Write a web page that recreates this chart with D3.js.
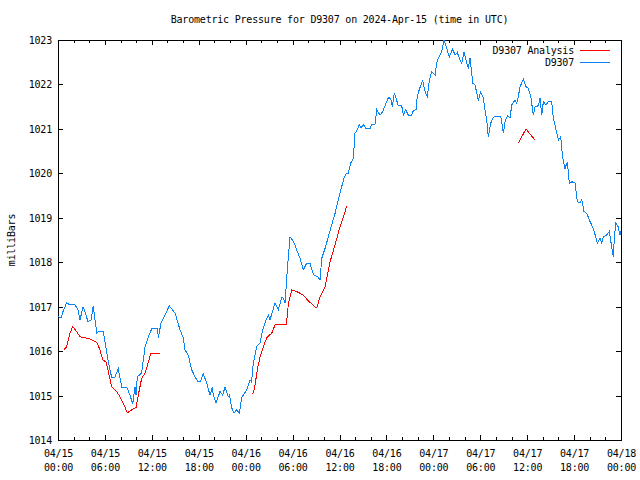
<!DOCTYPE html>
<html>
<head>
<meta charset="utf-8">
<script src="https://cdn.jsdelivr.net/npm/d3@7"></script>
<style>
  html, body { margin: 0; padding: 0; background: #fff; }
  svg { display: block; }
  text { font-family: "DejaVu Sans Mono", "Liberation Mono", monospace; font-size: 10px; letter-spacing: -0.2px; fill: #000; }
</style>
</head>
<body>
<svg id="chart" width="640" height="480"></svg>
<script>
// ---- Data (hours since 2024-04-15 00:00 UTC, pressure in mbar) ----
const titleText = "Barometric Pressure for D9307 on 2024-Apr-15 (time in UTC)";
const yLabel = "milliBars";
const seriesNames = ["D9307 Analysis", "D9307"];
const yTicks = [1014, 1015, 1016, 1017, 1018, 1019, 1020, 1021, 1022, 1023];

const blueHours = [0.0,0.4,0.64,1.11,1.53,2.17,2.56,2.81,3.2,3.45,3.84,4.22,4.51,4.95,5.37,5.79,6.23,6.52,6.87,7.29,
  7.71,8.15,8.79,9.21,9.55,9.85,9.98,10.14,10.7,11.13,11.51,11.98,12.73,12.83,13.17,13.68,14.23,14.96,15.6,16.03,
  16.24,16.66,17.1,17.52,17.94,18.22,18.58,19.02,19.44,19.73,19.86,20.21,20.72,21.06,21.36,21.78,21.93,22.22,22.51,22.86,
  23.19,23.49,24.13,24.56,24.75,24.98,25.41,25.83,26.18,26.6,26.9,27.11,27.75,28.18,28.61,28.81,29.03,29.33,29.67,29.99,
  30.31,30.61,30.95,31.37,31.81,32.23,32.45,32.74,33.25,33.51,33.73,34.15,34.57,35.0,35.43,35.85,36.28,36.58,36.83,37.13,
  37.43,37.77,37.98,38.28,38.53,38.75,39.05,39.39,39.9,40.12,40.54,40.76,41.18,41.53,41.82,42.24,42.53,42.75,43.01,43.23,
  43.52,43.96,44.16,44.47,44.8,45.24,45.44,45.79,45.95,46.21,46.64,46.94,47.23,47.49,47.79,48.22,48.43,48.64,49.07,49.37,
  49.71,50.05,50.48,50.77,51.07,51.32,51.63,51.92,52.18,52.47,52.69,53.04,53.33,53.75,54.06,54.35,54.61,54.83,55.03,55.34,
  55.67,56.15,56.62,56.96,57.17,57.47,57.81,58.03,58.45,58.67,58.87,59.09,59.51,59.85,60.15,60.46,60.79,61.01,61.43,61.64,
  61.86,62.07,62.41,62.71,63.14,63.35,63.69,63.99,64.29,64.55,64.84,65.14,65.39,65.74,66.12,66.42,66.76,66.98,67.27,67.62,
  67.95,68.46,68.81,68.97,69.32,69.53,69.74,70.17,70.5,70.81,71.02,71.17,71.36,71.62,71.87,72.0];
const bluePressure = [1016.78,1016.75,1016.89,1017.09,1017.04,1017.04,1016.93,1016.70,1017.0,1016.88,1016.66,1016.70,1017.02,1016.41,1016.45,1016.45,1015.96,1015.69,1015.40,1015.42,
  1015.60,1015.19,1015.19,1015.01,1014.81,1015.20,1015.01,1015.42,1015.51,1016.10,1016.30,1016.50,1016.50,1016.30,1016.63,1016.81,1017.02,1016.86,1016.48,1016.30,
  1016.03,1015.91,1015.58,1015.42,1015.31,1015.31,1015.49,1015.28,1015.01,1015.19,1015.01,1014.83,1015.09,1015.01,1015.19,1014.97,1015.01,1014.72,1014.61,1014.68,
  1014.60,1014.95,1015.13,1015.35,1015.31,1015.73,1016.10,1016.18,1016.48,1016.70,1016.81,1016.70,1017.08,1016.93,1017.21,1017.19,1017.08,1017.83,1018.57,1018.50,
  1018.39,1018.24,1018.09,1017.83,1017.98,1017.98,1017.83,1017.71,1017.67,1017.60,1018.09,1018.31,1018.57,1018.84,1019.10,1019.40,1019.70,1019.89,1019.99,1020.00,
  1020.23,1020.34,1020.90,1020.98,1021.09,1021.02,1021.10,1021.01,1021.01,1021.09,1021.10,1021.43,1021.31,1021.39,1021.52,1021.70,1021.69,1021.50,1021.81,1021.69,
  1021.52,1021.52,1021.31,1021.43,1021.31,1021.31,1021.41,1021.44,1021.73,1021.89,1022.09,1021.84,1021.73,1022.10,1022.29,1022.21,1022.48,1022.59,1022.74,1023.00,
  1022.81,1022.62,1022.80,1022.66,1022.72,1022.59,1022.48,1022.72,1022.55,1022.36,1022.60,1022.03,1021.99,1021.65,1021.83,1021.72,1021.43,1021.20,1020.82,1021.13,
  1021.26,1021.29,1021.29,1020.91,1021.16,1021.29,1021.25,1021.54,1021.65,1021.58,1021.73,1021.95,1022.12,1021.95,1021.91,1021.73,1021.31,1021.50,1021.52,1021.69,
  1021.31,1021.61,1021.54,1021.61,1021.61,1021.24,1020.98,1020.75,1020.82,1020.34,1020.11,1020.26,1019.78,1019.81,1019.78,1019.36,1019.33,1019.40,1019.14,1019.10,
  1018.95,1018.76,1018.54,1018.43,1018.54,1018.43,1018.57,1018.61,1018.69,1018.35,1018.12,1018.61,1018.89,1018.80,1018.61,1018.69];

// null marks a gap between analysis segments
const redHours = [0.77,1.11,1.53,1.88,2.39,2.81,3.67,4.09,4.95,5.37,5.72,6.14,6.43,6.87,7.51,7.93,8.44,8.86,9.43,9.98,
  10.27,10.7,11.13,11.42,11.86,13.05,null,
  24.9,25.16,25.49,25.83,26.47,26.77,27.33,27.75,29.16,29.33,29.45,29.89,30.53,31.37,32.01,32.49,32.87,33.12,33.51,
  34.15,34.79,35.43,36.07,36.71,36.92,null,
  58.87,59.85,60.24,61.01];
const redPressure = [1016.03,1016.10,1016.40,1016.55,1016.44,1016.32,1016.29,1016.27,1016.20,1016.03,1015.80,1015.76,1015.54,1015.20,1015.09,1014.97,1014.79,1014.61,1014.68,1014.73,
  1015.01,1015.39,1015.50,1015.67,1015.94,1015.94,null,
  1015.03,1015.19,1015.58,1015.87,1016.21,1016.32,1016.40,1016.59,1016.59,1016.79,1017.06,1017.38,1017.34,1017.26,1017.13,1017.06,1016.99,1016.99,1017.22,
  1017.45,1018.01,1018.39,1018.80,1019.14,1019.27,null,
  1020.68,1021.00,1020.91,1020.75];

const startTime = Date.UTC(2024, 3, 15, 0, 0);
const endTime = Date.UTC(2024, 3, 18, 0, 0);

// ---- Chart ----
const L = 58, R = 621, T = 40, B = 440;
const svg = d3.select("#chart");
const x = d3.scaleUtc().domain([new Date(startTime), new Date(endTime)]).range([L, R]);
const y = d3.scaleLinear().domain([1014, 1023]).range([B, T]);
const toDate = h => new Date(startTime + h * 3600e3);

const blue = blueHours.map((h, i) => ({ t: toDate(h), p: bluePressure[i] }));
const red = redHours.map((h, i) => ({ t: h == null ? null : toDate(h), p: redPressure[i] }));

const majorT = d3.utcHour.every(6).range(new Date(startTime), new Date(endTime + 1));
const minorT = d3.utcHour.every(2).range(new Date(startTime), new Date(endTime + 1))
  .filter(d => d.getUTCHours() % 6 !== 0);
const fmt1 = d3.utcFormat("%m/%d"), fmt2 = d3.utcFormat("%H:%M");

function styleAxis(g) {
  g.select(".domain").remove();
  g.selectAll("line").attr("stroke", "#000").attr("shape-rendering", "crispEdges");
}

// minor x ticks bottom & top
svg.append("g").attr("transform", `translate(0,${B})`)
  .call(d3.axisBottom(x).tickValues(minorT).tickSize(-3).tickFormat(""))
  .call(styleAxis);
svg.append("g").attr("transform", `translate(0,${T})`)
  .call(d3.axisTop(x).tickValues(minorT).tickSize(-3).tickFormat(""))
  .call(styleAxis);
// major x ticks top
svg.append("g").attr("transform", `translate(0,${T})`)
  .call(d3.axisTop(x).tickValues(majorT).tickSize(-5).tickFormat(""))
  .call(styleAxis);
// major x ticks bottom with labels
const xb = svg.append("g").attr("transform", `translate(0,${B})`)
  .call(d3.axisBottom(x).tickValues(majorT).tickSize(-5).tickFormat(""))
  .call(styleAxis);
xb.selectAll(".tick").each(function(d) {
  const t = d3.select(this).append("text").attr("text-anchor", "middle").attr("fill", "#000");
  t.append("tspan").attr("x", 0).attr("y", 17).text(fmt1(d));
  t.append("tspan").attr("x", 0).attr("y", 31).text(fmt2(d));
});

// y ticks left (labels) & right
const yl = svg.append("g").attr("transform", `translate(${L},0)`)
  .call(d3.axisLeft(y).tickValues(yTicks).tickSize(-5).tickPadding(6).tickFormat(d3.format("d")))
  .call(styleAxis);
yl.selectAll("text").attr("dy", "0.35em").attr("fill", "#000").style("font-size", "10px")
  .style("font-family", '"DejaVu Sans Mono", monospace');
svg.append("g").attr("transform", `translate(${R},0)`)
  .call(d3.axisRight(y).tickValues(yTicks).tickSize(-5).tickFormat(""))
  .call(styleAxis);

// border
svg.append("rect").attr("x", L + 0.5).attr("y", T + 0.5).attr("width", R - L).attr("height", B - T)
  .attr("fill", "none").attr("stroke", "#000").attr("stroke-width", 1).attr("shape-rendering", "crispEdges");

// lines
const line = d3.line().defined(d => d.p != null && d.t != null).x(d => x(d.t)).y(d => y(d.p));
svg.append("path").datum(red).attr("d", line).attr("fill", "none")
  .attr("stroke", "#ff0000").attr("stroke-width", 1).attr("shape-rendering", "crispEdges");
svg.append("path").datum(blue).attr("d", line).attr("fill", "none")
  .attr("stroke", "#0a84f5").attr("stroke-width", 1).attr("shape-rendering", "crispEdges");

// title
svg.append("text").attr("x", (L + R) / 2).attr("y", 23).attr("text-anchor", "middle").text(titleText);
// y label
svg.append("text").attr("transform", `translate(15,${(T + B) / 2}) rotate(-90)`)
  .attr("text-anchor", "middle").text(yLabel);

// legend
const legColors = ["#ff0000", "#0a84f5"];
seriesNames.forEach((name, i) => {
  const ly = 50 + i * 12;
  svg.append("text").attr("x", 574).attr("y", ly).attr("dy", "0.35em").attr("text-anchor", "end").text(name);
  svg.append("line").attr("x1", 580).attr("x2", 610).attr("y1", ly + 0.5).attr("y2", ly + 0.5)
    .attr("stroke", legColors[i]).attr("stroke-width", 1).attr("shape-rendering", "crispEdges");
});
</script>
</body>
</html>
